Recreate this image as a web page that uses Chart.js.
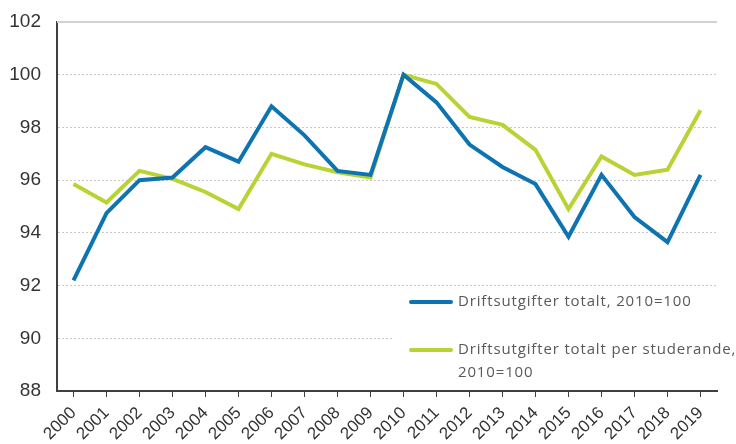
<!DOCTYPE html>
<html>
<head>
<meta charset="utf-8">
<script src="https://cdn.jsdelivr.net/npm/chart.js@4"></script>
<style>
  body { margin: 0; background: #fff; }
  .wrap { position: relative; width: 736px; height: 444px; }
  .legend {
    position: absolute; left: 392px; top: 286px; width: 344px; height: 96px;
    background: #fff; font-family: 'Open Sans', sans-serif; font-size: 15px; color: #595959;
    letter-spacing: 0.85px; white-space: nowrap;
  }
  .legend__item { position: absolute; left: 17px; display: flex; align-items: flex-start; }
  .legend__line { width: 44px; height: 4px; border-radius: 2px; margin-top: 11px; margin-right: 5px; }
  .legend__text { line-height: 23px; }
</style>
</head>
<body>
<div class="wrap">
  <canvas id="chart" width="736" height="444"></canvas>
  <div class="legend">
    <div class="legend__item" style="top: 3px;">
      <span class="legend__line" style="background:#0d74b1"></span>
      <span class="legend__text">Driftsutgifter totalt, 2010=100</span>
    </div>
    <div class="legend__item" style="top: 51px;">
      <span class="legend__line" style="background:#b7d334"></span>
      <span class="legend__text">Driftsutgifter totalt per studerande,<br>2010=100</span>
    </div>
  </div>
</div>
<script>
const years = ['2000', '2001', '2002', '2003', '2004', '2005', '2006', '2007', '2008', '2009',
  '2010', '2011', '2012', '2013', '2014', '2015', '2016', '2017', '2018', '2019'];

const totalt = [92.2, 94.75, 96.0, 96.1, 97.25, 96.7, 98.8, 97.7, 96.35, 96.2,
  100, 98.95, 97.35, 96.5, 95.85, 93.85, 96.2, 94.6, 93.65, 96.2];

const perStuderande = [95.85, 95.15, 96.35, 96.05, 95.55, 94.9, 97.0, 96.6, 96.3, 96.1,
  100, 99.65, 98.4, 98.1, 97.15, 94.9, 96.9, 96.2, 96.4, 98.65];

const yTicks = { min: 88, max: 102, step: 2 };

// solid light line along the top of the plot (102)
const topLine = {
  id: 'topLine',
  beforeDatasetsDraw(chart) {
    const { ctx, chartArea } = chart;
    ctx.save();
    ctx.strokeStyle = '#d2d2d2';
    ctx.lineWidth = 2;
    ctx.beginPath();
    ctx.moveTo(chartArea.left, chartArea.top);
    ctx.lineTo(chartArea.right, chartArea.top);
    ctx.stroke();
    ctx.restore();
  },
};

new Chart(document.getElementById('chart'), {
  type: 'line',
  plugins: [topLine],
  data: {
    labels: years,
    datasets: [{
      label: 'Driftsutgifter totalt, 2010=100',
      data: totalt,
      borderColor: '#0d74b1',
      borderWidth: 4,
      pointRadius: 0,
      tension: 0,
    }, {
      label: 'Driftsutgifter totalt per studerande, 2010=100',
      data: perStuderande,
      borderColor: '#b7d334',
      borderWidth: 4,
      pointRadius: 0,
      tension: 0,
    }],
  },
  options: {
    responsive: false,
    animation: false,
    layout: { padding: { top: 22, right: 19, left: 0, bottom: 0 } },
    plugins: { legend: { display: false }, tooltip: { enabled: false } },
    scales: {
      x: {
        offset: true,
        afterFit: (scale) => { scale.height = 53; scale.paddingLeft = 0; scale.paddingRight = 0; },
        grid: { drawOnChartArea: false, drawTicks: true, tickLength: 6, tickColor: '#404040', offset: false },
        border: { color: '#404040', width: 2 },
        ticks: {
          color: '#333',
          autoSkip: false,
          font: { family: 'Liberation Sans', size: 17 },
          maxRotation: 45, minRotation: 45, padding: 6,
        },
      },
      y: {
        min: yTicks.min,
        max: yTicks.max,
        afterFit: (scale) => { scale.width = 57; scale.paddingTop = 0; scale.paddingBottom = 0; },
        grid: { color: '#c8c8c8', drawTicks: false },
        border: { color: '#404040', width: 2, dash: [2, 2] },
        ticks: {
          stepSize: yTicks.step,
          color: '#333',
          padding: 16,
          font: { family: 'Liberation Sans', size: 19 },
        },
      },
    },
  },
});
</script>
</body>
</html>
